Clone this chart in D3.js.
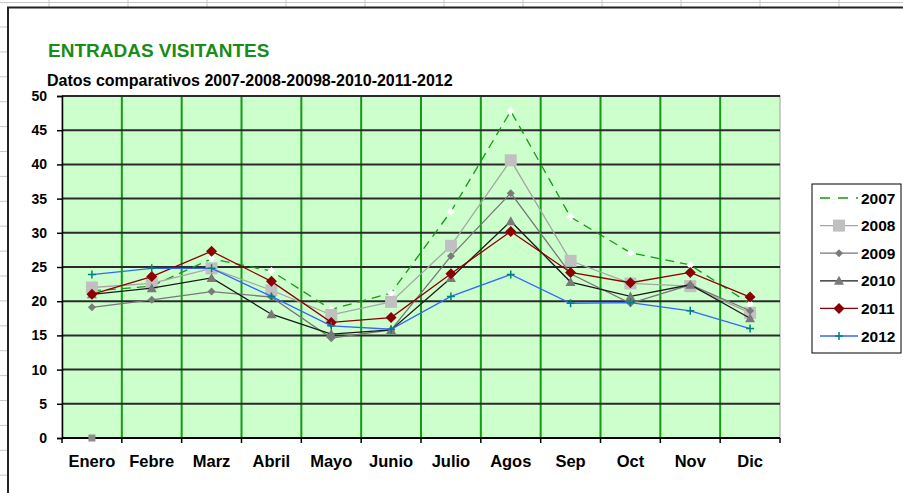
<!DOCTYPE html>
<html>
<head>
<meta charset="utf-8">
<script src="https://d3js.org/d3.v7.min.js"></script>
<style>
  body { margin: 0; background: #fff; }
  svg text { font-family: Arial, "Liberation Sans", sans-serif; font-weight: bold; }
</style>
</head>
<body>
<div id="my_chart"></div>
<script>

// ======================= //
// DATA
// ======================= //

var months = ["Enero", "Febre", "Marz", "Abril", "Mayo", "Junio", "Julio", "Agos", "Sep", "Oct", "Nov", "Dic"]
var yTicks = [0, 5, 10, 15, 20, 25, 30, 35, 40, 45, 50]
var years = ["2007", "2008", "2009", "2010", "2011", "2012"]

var v2007 = [21.5, 22.2, 26.2, 24.4, 18.8, 21.2, 33.1, 47.8, 32.3, 27.1, 25.3, 19.6]
var v2008 = [22.0, 22.6, 24.8, 21.6, 18.0, 19.9, 28.1, 40.6, 25.9, 22.6, 22.2, 18.3]
var v2009 = [19.1, 20.2, 21.4, 20.6, 14.6, 15.8, 26.6, 35.8, 24.0, 19.7, 22.4, 18.6]
var v2010 = [21.0, 21.9, 23.4, 18.1, 15.2, 15.8, 23.4, 31.7, 22.8, 20.7, 22.4, 17.5]
var v2011 = [21.0, 23.6, 27.3, 22.9, 16.9, 17.6, 24.0, 30.2, 24.2, 22.7, 24.2, 20.6]
var v2012 = [23.9, 24.8, 24.8, 20.7, 16.4, 15.9, 20.7, 23.9, 19.7, 19.8, 18.6, 16.0]

// lone point sitting on the axis under Enero
var strayMonths = ["Enero"]
var strayValues = [0]

var allValues = [v2007, v2008, v2009, v2010, v2011, v2012]

var title = "ENTRADAS VISITANTES"
var subtitle = "Datos comparativos 2007-2008-20098-2010-2011-2012"


// ======================= //
// SVG AREAS
// ======================= //

var W = 903, H = 493
var margin = {top: 96, right: 123, bottom: 55, left: 62},
  width = W - margin.left - margin.right,
  height = H - margin.top - margin.bottom;

var root = d3.select("#my_chart")
  .append("svg")
    .attr("width", W)
    .attr("height", H)

// spreadsheet grid behind the chart object
var colLines = d3.range(49, W, 79)
var rowLines = d3.range(27, H, 24.9)
root.selectAll(".colLine")
  .data(colLines)
  .enter()
  .append("line")
    .attr("x1", function(d){ return d }).attr("x2", function(d){ return d })
    .attr("y1", 0).attr("y2", 7)
    .style("stroke", "#c8c8c8")
root.append("line")
    .attr("x1", 0).attr("x2", W).attr("y1", 2.5).attr("y2", 2.5)
    .style("stroke", "#c8c8c8")
root.selectAll(".rowLine")
  .data(rowLines)
  .enter()
  .append("line")
    .attr("x1", 0).attr("x2", 7)
    .attr("y1", function(d){ return d }).attr("y2", function(d){ return d })
    .style("stroke", "#c8c8c8")

// chart object frame
root.append("rect")
    .attr("x", 8).attr("y", 7.5)
    .attr("width", W + 10).attr("height", H + 10)
    .style("fill", "#fff")
    .style("stroke", "#222")
    .style("stroke-width", 2)

// titles
root.append("text")
    .attr("x", 48).attr("y", 57)
    .text(title)
    .style("font-size", "19px")
    .style("fill", "#1a8c1a")
root.append("text")
    .attr("x", 47).attr("y", 86)
    .text(subtitle)
    .style("font-size", "16px")
    .style("fill", "#000")

var svg = root.append("g")
    .attr("transform", "translate(" + margin.left + "," + margin.top + ")");


// ======================= //
// AXIS and SCALES
// ======================= //

var x = d3.scaleBand()
  .range([0, width])
  .domain(months)
  .padding(0);

var xc = function(m){ return x(m) + x.bandwidth() / 2 }

var y = d3.scaleLinear()
  .range([height, 0])
  .domain([0, 50]);

// plot background
svg.append("rect")
    .attr("width", width)
    .attr("height", height)
    .style("fill", "#ccffcc")
    .style("stroke", "#a0a0a0")
    .style("stroke-width", 1)

// vertical green gridlines on category edges
svg.selectAll(".vgrid")
  .data(months.slice(1))
  .enter()
  .append("line")
    .attr("x1", function(d){ return x(d) }).attr("x2", function(d){ return x(d) })
    .attr("y1", 0).attr("y2", height)
    .style("stroke", "#159a15")
    .style("stroke-width", 2)

// horizontal dark gridlines
svg.selectAll(".hgrid")
  .data(yTicks.slice(1))
  .enter()
  .append("line")
    .attr("x1", 0).attr("x2", width)
    .attr("y1", function(d){ return y(d) }).attr("y2", function(d){ return y(d) })
    .style("stroke", "#2a2a2a")
    .style("stroke-width", 2)

// Y axis
var yAxis = svg.append("g")
  .call(d3.axisLeft(y).tickValues(yTicks).tickSize(5).tickPadding(10))
yAxis.select(".domain").style("stroke", "#000").style("stroke-width", 1.5)
yAxis.selectAll(".tick line").style("stroke", "#000").style("stroke-width", 1.5)
yAxis.selectAll("text")
    .style("font-size", "14px")
    .style("fill", "#000")

// X axis, ticks on the band edges
var edges = months.map(function(m){ return x(m) }).concat([width])
var xAxis = svg.append("g")
  .attr("transform", "translate(0," + height + ")")
xAxis.append("line")
    .attr("x1", 0).attr("x2", width)
    .style("stroke", "#000").style("stroke-width", 2)
xAxis.selectAll(".xtick")
  .data(edges)
  .enter()
  .append("line")
    .attr("x1", function(d){ return d }).attr("x2", function(d){ return d })
    .attr("y1", 0).attr("y2", 5)
    .style("stroke", "#000").style("stroke-width", 1.5)
xAxis.selectAll(".xlab")
  .data(months)
  .enter()
  .append("text")
    .attr("x", function(d){ return xc(d) })
    .attr("y", 29)
    .text(function(d){ return d })
    .style("text-anchor", "middle")
    .style("font-size", "16.5px")
    .style("fill", "#000")


// ======================= //
// SERIES
// ======================= //

var styles = [
  {line: "#159a15", width: 1.3, dash: "9,6", marker: "diamond", fill: "#ffffff", r: 4},
  {line: "#a6a6a6", width: 1.3, dash: null, marker: "square", fill: "#c0c0c0", r: 6},
  {line: "#777777", width: 1.3, dash: null, marker: "diamond", fill: "#7a7a7a", r: 4},
  {line: "#1a1a1a", width: 1.3, dash: null, marker: "triangle", fill: "#7a7a7a", r: 5},
  {line: "#8b0000", width: 1.3, dash: null, marker: "diamond", fill: "#8b0000", r: 5.5},
  {line: "#3366ff", width: 1.3, dash: null, marker: "plus", fill: "#008080", r: 4}
]

// marker shapes drawn around 0,0 with half-size r
function markerPath(kind, r) {
  if (kind == "diamond") return "M0," + (-r) + "L" + r + ",0L0," + r + "L" + (-r) + ",0Z"
  if (kind == "square") return "M" + (-r) + "," + (-r) + "H" + r + "V" + r + "H" + (-r) + "Z"
  if (kind == "triangle") return "M0," + (-r) + "L" + r + "," + (r * 0.8) + "H" + (-r) + "Z"
  return "M" + (-r) + ",0H" + r + "M0," + (-r) + "V" + r
}

var line = d3.line()
  .x(function(d, i){ return xc(months[i]) })
  .y(function(d){ return y(d) })

function drawMarker(sel, st, px, py) {
  var p = sel.append("path")
    .attr("d", markerPath(st.marker, st.r))
    .attr("transform", "translate(" + px + "," + py + ")")
  if (st.marker == "plus") {
    p.style("stroke", st.fill).style("stroke-width", 1.5).style("fill", "none")
  } else {
    p.style("fill", st.fill).style("stroke", "none")
  }
}

allValues.forEach(function(vals, k){
  var st = styles[k]
  var g = svg.append("g")
  g.append("path")
    .datum(vals)
    .attr("d", line)
    .style("fill", "none")
    .style("stroke", st.line)
    .style("stroke-width", st.width)
    .style("stroke-dasharray", st.dash)
  vals.forEach(function(v, i){
    drawMarker(g, st, xc(months[i]), y(v))
  })
})

// the stray gray square on zero
strayValues.forEach(function(v, i){
  drawMarker(svg, {marker: "square", fill: "#8c8c8c", r: 3.5}, xc(strayMonths[i]), y(v))
})


// ======================= //
// LEGEND
// ======================= //

var legend = root.append("g")
    .attr("transform", "translate(812,184)")
legend.append("rect")
    .attr("width", 89)
    .attr("height", 169)
    .style("fill", "#fff")
    .style("stroke", "#000")
    .style("stroke-width", 1)

years.forEach(function(yr, k){
  var st = styles[k]
  var ly = 14 + k * 27.6
  legend.append("line")
    .attr("x1", 8).attr("x2", 46)
    .attr("y1", ly).attr("y2", ly)
    .style("stroke", st.line)
    .style("stroke-width", 1.3)
    .style("stroke-dasharray", k == 0 ? "10,8" : null)
  if (k > 0) drawMarker(legend, st, 27, ly)
  legend.append("text")
    .attr("x", 49).attr("y", ly + 5.5)
    .text(yr)
    .style("font-size", "15.5px")
    .style("fill", "#000")
})

</script>
</body>
</html>
